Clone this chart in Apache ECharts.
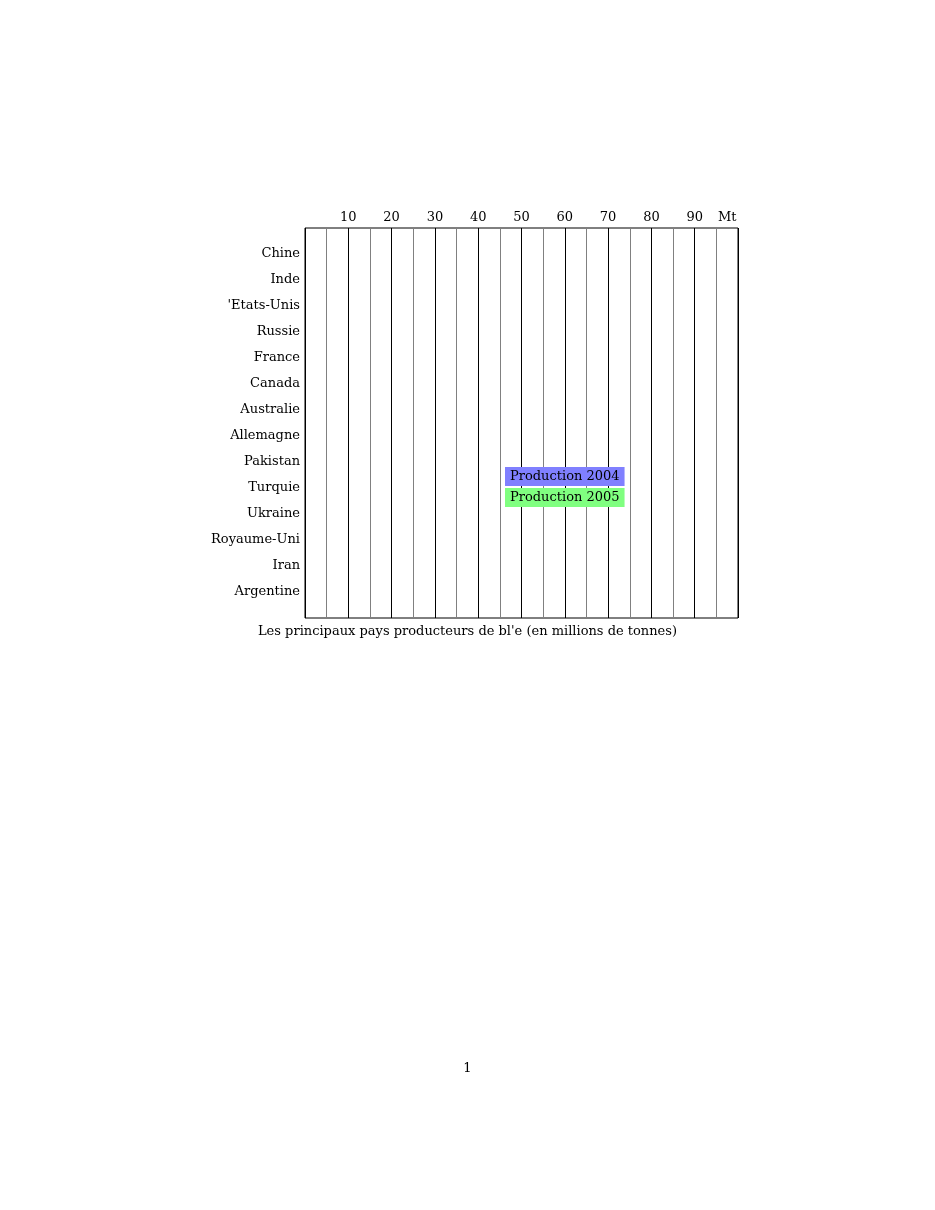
<!DOCTYPE html>
<html>
<head>
    <meta charset="UTF-8">
    <title>Production de blé</title>
    <script src="https://cdn.jsdelivr.net/npm/echarts@6/dist/echarts.min.js"></script>
    <style>
        html, body { margin: 0; padding: 0; background: #fff; }
        #chart { width: 935px; height: 1210px; }
    </style>
</head>
<body>
<div id="chart"></div>
<script type="text/javascript">
    // pays, du haut vers le bas
    var countries = ['Chine', 'Inde', '\'Etats-Unis', 'Russie', 'France', 'Canada', 'Australie',
        'Allemagne', 'Pakistan', 'Turquie', 'Ukraine', 'Royaume-Uni', 'Iran', 'Argentine'];
    // aucune barre n'apparait sur l'image
    var production2004 = [];
    var production2005 = [];
    var tickLabels = ['10', '20', '30', '40', '50', '60', '70', '80', '90'];
    var unitLabel = 'Mt';
    var unitPos = 97.5;
    var caption = 'Les principaux pays producteurs de bl\'e (en millions de tonnes)';
    var pageNumber = '1';

    var font = 'DejaVu Serif';

    var option = {
        animation: false,
        textStyle: { fontFamily: font, color: '#000' },
        title: [
            {
                text: caption,
                left: 'center',
                top: 620,
                textStyle: { fontFamily: font, fontSize: 13, fontWeight: 'normal', color: '#000' }
            },
            {
                text: pageNumber,
                left: 'center',
                top: 1057,
                textStyle: { fontFamily: font, fontSize: 13, fontWeight: 'normal', color: '#000' }
            }
        ],
        legend: {
            orient: 'vertical',
            left: 495,
            top: 462,
            itemGap: 2,
            icon: 'none',
            itemWidth: 0,
            itemHeight: 0,
            textStyle: { fontFamily: font, fontSize: 13, color: '#000' },
            data: [
                { name: 'Production 2004', textStyle: { backgroundColor: '#8080ff', padding: [3, 5, 3, 5] } },
                { name: 'Production 2005', textStyle: { backgroundColor: '#80ff80', padding: [3, 5, 3, 5] } }
            ]
        },
        grid: {
            left: 305,
            top: 228,
            right: 197,
            bottom: 592,
            show: true,
            borderColor: '#000',
            borderWidth: 1,
            containLabel: false
        },
        xAxis: {
            type: 'value',
            position: 'top',
            min: 0,
            max: 100,
            interval: 2.5,
            axisLine: { show: false },
            axisTick: { show: false },
            axisLabel: {
                interval: 0,
                margin: 4,
                fontFamily: font,
                fontSize: 13,
                color: '#000',
                formatter: function (v) {
                    if (v === unitPos) return unitLabel;
                    if (v % 10 === 0 && v > 0 && v < 100) return tickLabels[v / 10 - 1];
                    return '';
                }
            },
            splitLine: {
                show: true,
                lineStyle: { color: ['#000', 'rgba(0,0,0,0)', '#808080', 'rgba(0,0,0,0)'], width: 1 }
            }
        },
        yAxis: {
            type: 'value',
            inverse: true,
            min: 0,
            max: 15,
            interval: 1,
            axisLine: { show: false },
            axisTick: { show: false },
            splitLine: { show: false },
            axisLabel: {
                margin: 5,
                fontFamily: font,
                fontSize: 13,
                color: '#000',
                formatter: function (v) {
                    return countries[v - 1] || '';
                }
            }
        },
        series: [
            { name: 'Production 2004', type: 'bar', color: '#8080ff', data: production2004 },
            { name: 'Production 2005', type: 'bar', color: '#80ff80', data: production2005 }
        ]
    };

    var myChart = echarts.init(document.getElementById('chart'));
    myChart.setOption(option);
</script>
</body>
</html>
